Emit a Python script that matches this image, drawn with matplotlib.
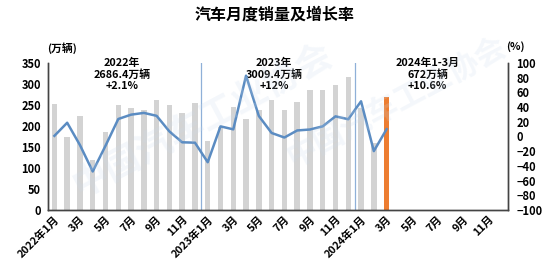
import matplotlib
matplotlib.use('Agg')
import matplotlib.pyplot as plt
import numpy as np

plt.rcParams['font.family'] = ['Noto Sans CJK SC', 'DejaVu Sans']
plt.rcParams['font.weight'] = 'bold'

# monthly sales (万辆), 2022-01 .. 2024-03
sales = [253.1, 173.7, 223.4, 118.1, 186.2, 250.2, 242.0, 238.3, 261.0, 250.5, 232.0, 255.6,
         164.9, 197.6, 245.1, 215.9, 238.2, 262.2, 238.7, 258.2, 285.8, 285.3, 297.0, 315.6,
         243.9, 158.4, 269.4]
# year-on-year growth (%)
growth = [0.9, 18.7, -11.7, -47.6, -12.6, 23.8, 29.7, 32.1, 28.1, 6.9, -7.9, -8.4,
          -35.0, 13.8, 9.7, 82.7, 27.9, 4.8, -1.4, 8.2, 9.5, 13.8, 27.4, 23.5,
          47.9, -19.9, 9.9]
n_months = 36
tick_labels = ['2022年1月', '3月', '5月', '7月', '9月', '11月',
               '2023年1月', '3月', '5月', '7月', '9月', '11月',
               '2024年1月', '3月', '5月', '7月', '9月', '11月']
notes = [('2022年\n2686.4万辆\n+2.1%', 5.3),
         ('2023年\n3009.4万辆\n+12%', 17.2),
         ('2024年1-3月\n672万辆\n+10.6%', 29.2)]

fig = plt.figure(figsize=(5.5, 2.68), dpi=100)
ax = fig.add_axes([0.0873, 0.2164, 0.8363, 0.5486])
ax2 = ax.twinx()

x = np.arange(len(sales))
colors = ['#d3d3d3'] * (len(sales) - 1) + ['#ed7d31']
ax.bar(x, sales, width=0.42, color=colors, zorder=2)
ax.set_ylim(0, 350)
ax.set_xlim(-0.5, n_months - 0.5)
ax.set_yticks(np.arange(0, 351, 50))
ax.set_xticks(np.arange(0, n_months, 2))
ax.set_xticklabels(tick_labels, rotation=45, ha='right', va='top',
                   rotation_mode='anchor', fontsize=7.8, fontweight='bold')
ax.tick_params(axis='y', labelsize=8, length=0, pad=5)
ax.tick_params(axis='x', length=0, pad=3)

# year separators
for sep in [11.5, 23.5]:
    ax.axvline(sep, color='#8fb0d8', lw=0.9, zorder=1)

ax2.plot(x, growth, color='#5b8cc2', lw=1.8, zorder=3)
ax2.set_ylim(-100, 100)
ax2.set_yticks(np.arange(-100, 101, 20))
ax2.tick_params(axis='y', labelsize=8, length=0, pad=6)

for a in (ax, ax2):
    a.spines['top'].set_visible(False)
    for s in ('left', 'right', 'bottom'):
        a.spines[s].set_color('#444444')
        a.spines[s].set_linewidth(1.0)
for lab in ax.get_yticklabels() + ax2.get_yticklabels():
    lab.set_fontweight('bold')

# faint watermark
fig.text(0.37, 0.55, '中国汽车工业协会', fontsize=26, color='#c9d9ec', alpha=0.2,
         rotation=28, ha='center', va='center', zorder=0)
fig.text(0.72, 0.62, '中国汽车工业协会', fontsize=22, color='#c9d9ec', alpha=0.2,
         rotation=28, ha='center', va='center', zorder=0)

for txt, xpos in notes:
    ax.text(xpos, 362, txt, ha='center', va='top', fontsize=7.8, fontweight='bold',
            linespacing=1.1, clip_on=False)

ax.text(0.6, 386, '(万辆)', ha='center', va='center', fontsize=7.8, fontweight='bold')
ax2.text(36.1, 122, '(%)', ha='center', va='center', fontsize=7.8, fontweight='bold')

fig.suptitle('汽车月度销量及增长率', x=0.5, y=0.975, fontsize=11.5, fontweight='bold')

fig.savefig('out.png', dpi=100)
